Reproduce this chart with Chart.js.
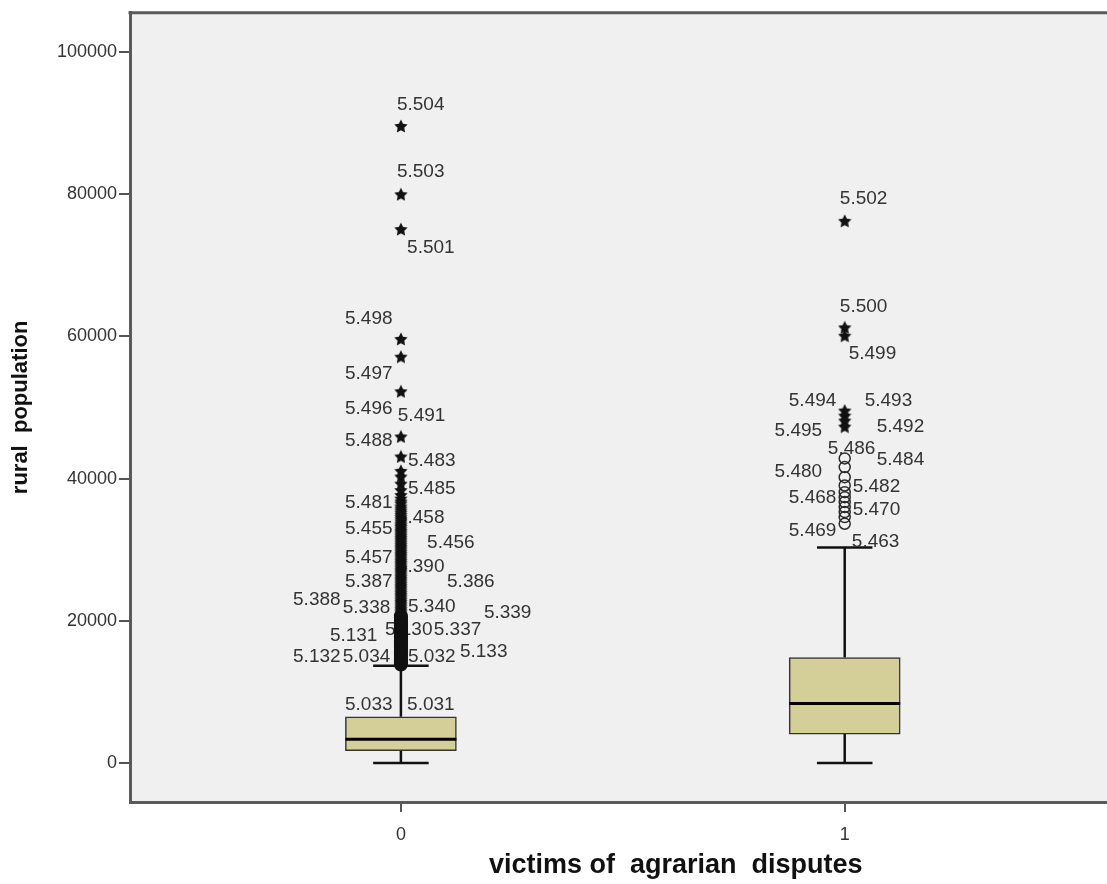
<!DOCTYPE html>
<html>
<head>
<meta charset="utf-8">
<script src="https://cdn.jsdelivr.net/npm/chart.js@4"></script>
<style>
  html, body { margin: 0; padding: 0; background: #fff; overflow: hidden }
</style>
</head>
<body>
<canvas id="boxChart" width="1230" height="884"></canvas>
<script>
// 分组 / 箱线图统计量
const groups = ['0', '1']
const groupX = [0, 1]
const q1 = [1730, 4070]
const medians = [3330, 8390]
const q3 = [6500, 14850]
const whiskerLow = [0, 0]
const whiskerHigh = [13670, 30300]
const yTicks = [0, 20000, 40000, 60000, 80000, 100000]

// 离群值（圆圈）与极端值（星号）
const mildOutliers0 = [20650, 20450, 20250, 20050, 19850, 19650, 19450, 19250, 19050, 18850,
  18650, 18450, 18250, 18050, 17850, 17650, 17450, 17250, 17050, 16850, 16650, 16450, 16250,
  16050, 15850, 15650, 15450, 15250, 15050, 14850, 14650, 14450, 14250, 14050, 13850]
const extremeOutliers0 = [89600, 80000, 75100, 59650, 57160, 52290, 45930, 43120, 41100, 40300,
  39300, 38400, 37700, 37200, 36800, 36500, 36100, 35800, 35500, 35200, 34900, 34600, 34300,
  34000, 33700, 33450, 33200, 32900, 32650, 32400, 32150, 31900, 31650, 31400, 31150, 30900,
  30650, 30400, 30150, 29900, 29650, 29400, 29150, 28900, 28650, 28400, 28150, 27900, 27650,
  27400, 27150, 26900, 26650, 26400, 26150, 25900, 25650, 25400, 25150, 24900, 24650, 24400,
  24150, 23900, 23650, 23400, 23150, 22900, 22650, 22400, 22150, 21900, 21650, 21400, 21150,
  20900]
const mildOutliers1 = [42840, 41620, 40210, 39040, 38100, 37400, 36700, 36000, 35300, 34590, 33660]
const extremeOutliers1 = [76260, 61280, 60110, 49580, 48880, 48170, 47330]

// 个案编号标注: [文本, x(分组轴单位), y(数值)]
const caseLabels = [
  ['5.504', -0.009, 92560], ['5.503', -0.009, 83190], ['5.501', 0.014, 72510],
  ['5.498', -0.126, 62500], ['5.497', -0.126, 54780], ['5.496', -0.126, 49860],
  ['5.491', -0.007, 48880], ['5.488', -0.126, 45370], ['5.483', 0.016, 42560],
  ['5.485', 0.016, 38620], ['5.481', -0.126, 36660], ['5.458', -0.009, 34550],
  ['5.455', -0.126, 33010], ['5.456', 0.059, 31040], ['5.457', -0.126, 28930],
  ['5.390', -0.009, 27670], ['5.387', -0.126, 25560], ['5.386', 0.104, 25560],
  ['5.388', -0.243, 23030], ['5.338', -0.131, 21770], ['5.340', 0.016, 21910],
  ['5.339', 0.187, 21070], ['5.131', -0.160, 17840], ['5.130', -0.036, 18680],
  ['5.337', 0.074, 18680], ['5.132', -0.243, 14890], ['5.034', -0.131, 14890],
  ['5.032', 0.016, 14890], ['5.133', 0.133, 15590], ['5.033', -0.126, 8150],
  ['5.031', 0.014, 8150],
  ['5.502', 0.989, 79350], ['5.500', 0.989, 64190], ['5.499', 1.009, 57580],
  ['5.494', 0.874, 50890], ['5.493', 1.045, 50980], ['5.495', 0.842, 46770],
  ['5.492', 1.072, 47230], ['5.486', 0.962, 44240], ['5.484', 1.072, 42700],
  ['5.480', 0.842, 40910], ['5.482', 1.018, 38810], ['5.468', 0.874, 37320],
  ['5.470', 1.018, 35630], ['5.469', 0.874, 32720], ['5.463', 1.016, 31080]
]

const FONT = "'Liberation Sans', Arial, sans-serif"
const BOX_WIDTH = 111

function makeStar(size, color) {
  const c = document.createElement('canvas')
  c.width = c.height = size
  const g = c.getContext('2d')
  const r = size / 2
  const ri = r * 0.5
  g.beginPath()
  for (let i = 0; i < 10; i++) {
    const a = -Math.PI / 2 + i * Math.PI / 5
    const rr = i % 2 ? ri : r
    g.lineTo(r + rr * Math.cos(a), r + rr * 1.02 * Math.sin(a) + 0.6)
  }
  g.closePath()
  g.fillStyle = color
  g.fill()
  return c
}
const starImg = makeStar(14, '#111')

const toPoints = (x, values) => values.map(v => ({ x: x, y: v }))

// 背景、须线、标注、中位线
const boxExtras = {
  id: 'boxExtras',
  beforeDraw(chart) {
    const { ctx, chartArea: a } = chart
    ctx.save()
    ctx.fillStyle = '#f0f0f0'
    ctx.fillRect(a.left, a.top, a.right - a.left, a.bottom - a.top)
    ctx.restore()
  },
  beforeDatasetsDraw(chart) {
    const { ctx, scales: { x, y } } = chart
    ctx.save()
    ctx.strokeStyle = '#111'
    ctx.lineWidth = 2.5
    groupX.forEach((g, i) => {
      const px = x.getPixelForValue(g)
      const cap = BOX_WIDTH / 4
      ctx.beginPath()
      ctx.moveTo(px, y.getPixelForValue(q3[i]))
      ctx.lineTo(px, y.getPixelForValue(whiskerHigh[i]))
      ctx.moveTo(px, y.getPixelForValue(q1[i]))
      ctx.lineTo(px, y.getPixelForValue(whiskerLow[i]))
      ctx.moveTo(px - cap, y.getPixelForValue(whiskerHigh[i]))
      ctx.lineTo(px + cap, y.getPixelForValue(whiskerHigh[i]))
      ctx.moveTo(px - cap, y.getPixelForValue(whiskerLow[i]))
      ctx.lineTo(px + cap, y.getPixelForValue(whiskerLow[i]))
      ctx.stroke()
    })
    ctx.fillStyle = '#333'
    ctx.font = '19px ' + FONT
    ctx.textAlign = 'left'
    ctx.textBaseline = 'middle'
    caseLabels.forEach(([t, gx, v]) => {
      ctx.fillText(t, x.getPixelForValue(gx), y.getPixelForValue(v))
    })
    ctx.restore()
  },
  afterDatasetsDraw(chart) {
    const { ctx, chartArea: a, scales: { x, y } } = chart
    ctx.save()
    ctx.strokeStyle = '#000'
    ctx.lineWidth = 3
    groupX.forEach((g, i) => {
      const px = x.getPixelForValue(g)
      const py = y.getPixelForValue(medians[i])
      ctx.beginPath()
      ctx.moveTo(px - BOX_WIDTH / 2, py)
      ctx.lineTo(px + BOX_WIDTH / 2, py)
      ctx.stroke()
    })
    // 上边框
    ctx.strokeStyle = '#5a5a5a'
    ctx.lineWidth = 3
    ctx.beginPath()
    ctx.moveTo(a.left - 1.5, a.top)
    ctx.lineTo(a.right, a.top)
    ctx.stroke()
    ctx.restore()
  }
}

new Chart(document.getElementById('boxChart'), {
  type: 'bar',
  data: {
    datasets: [
      {
        type: 'bar',
        data: groupX.map((g, i) => ({ x: g, y: [q1[i], q3[i]] })),
        backgroundColor: '#d4cf98',
        borderColor: '#333',
        borderWidth: 1.5,
        borderSkipped: false,
        barThickness: BOX_WIDTH,
        grouped: false
      },
      {
        type: 'scatter',
        data: toPoints(0, mildOutliers0),
        pointStyle: 'circle',
        pointRadius: 5.5,
        borderColor: '#111',
        borderWidth: 3,
        backgroundColor: 'rgba(0,0,0,0)'
      },
      {
        type: 'scatter',
        data: toPoints(1, mildOutliers1),
        pointStyle: 'circle',
        pointRadius: 5.5,
        borderColor: '#2a2a2a',
        borderWidth: 1.5,
        backgroundColor: 'rgba(0,0,0,0)'
      },
      {
        type: 'scatter',
        data: toPoints(0, extremeOutliers0).concat(toPoints(1, extremeOutliers1)),
        pointStyle: starImg,
        pointRadius: 7
      }
    ]
  },
  options: {
    responsive: false,
    animation: false,
    layout: { padding: { top: 12, right: 0, left: 0, bottom: 0 } },
    plugins: {
      legend: { display: false },
      tooltip: { enabled: false }
    },
    scales: {
      x: {
        type: 'linear',
        offset: false,
        min: -0.6104,
        max: 1.849,
        afterBuildTicks: s => { s.ticks = groupX.map(v => ({ value: v })) },
        afterFit: s => { s.height = 82 },
        ticks: {
          callback: (v, i) => groups[i],
          color: '#333',
          font: { size: 18, family: FONT },
          padding: 12,
          autoSkip: false,
          maxRotation: 0
        },
        grid: { offset: false, drawOnChartArea: false, tickLength: 10, color: '#555', lineWidth: 2 },
        border: { color: '#5a5a5a', width: 3 },
        title: {
          display: true,
          text: 'victims of  agrarian  disputes',
          color: '#111',
          font: { size: 27, weight: 'bold', family: FONT },
          padding: { top: 0, bottom: 2 }
        }
      },
      y: {
        min: -5480,
        max: 105520,
        afterBuildTicks: s => { s.ticks = yTicks.map(v => ({ value: v })) },
        afterFit: s => { s.width = 130 },
        ticks: {
          callback: v => String(v),
          color: '#333',
          font: { size: 18, family: FONT },
          padding: 2
        },
        grid: { drawOnChartArea: false, tickLength: 11, color: '#555', lineWidth: 2 },
        border: { color: '#5a5a5a', width: 3 },
        title: {
          display: true,
          text: 'rural  population',
          color: '#111',
          font: { size: 22, weight: 'bold', family: FONT },
          padding: { top: 8, bottom: 0 }
        }
      }
    }
  },
  plugins: [boxExtras]
})
</script>
</body>
</html>
